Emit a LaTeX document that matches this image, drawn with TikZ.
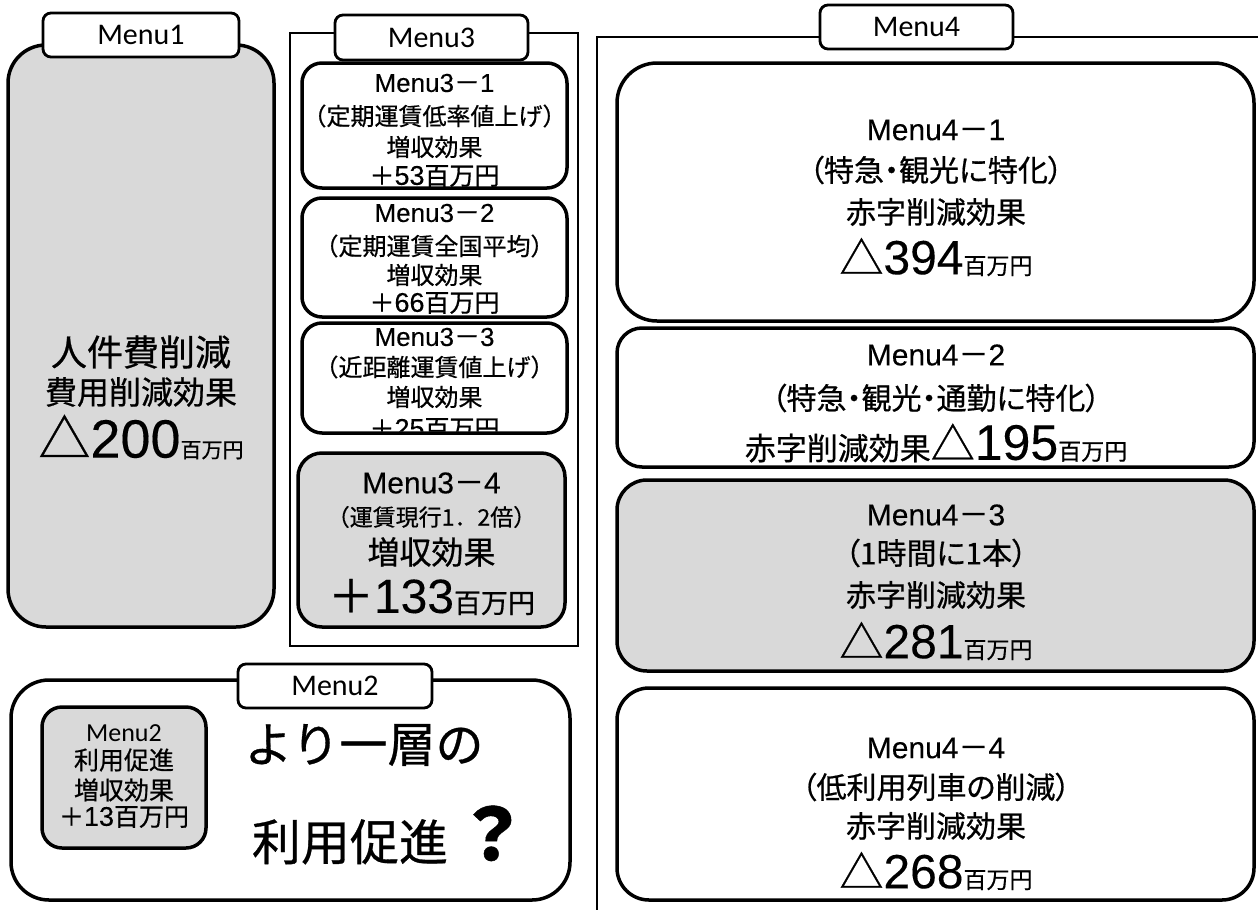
\documentclass[tikz,border=0pt]{standalone}
\usepackage{fontspec}
\usetikzlibrary{fit}
\setmainfont{Noto Sans CJK JP}[FakeBold=0.6]
\newfontfamily\jpp{Noto Sans CJK JP}[RawFeature=+palt, FakeBold=0.6]
\newfontfamily\lat{Liberation Sans}[FakeBold=0.2]
\newfontfamily\carl{Carlito}
\newcommand\fs[1]{\fontsize{#1}{#1}\selectfont}
\newcommand\mymenu[3]{{\lat\fs{#1}Menu#2}{\fs{#1}－}{\lat\fs{#1}#3}}
\newcommand\myamt[5]{{\fs{#3}#1}{\lat\fs{#4}#2}{\fs{#5}百万円}}
\definecolor{scr}{gray}{0.85}
\tikzset{
  box/.style={draw=black, line width=3.5pt, inner sep=0pt, fill=white},
  graybox/.style={box, fill=scr},
  tab/.style={draw=black, line width=2.8pt, fill=white, rounded corners=8pt, inner sep=0pt},
  frame/.style={draw=black, line width=2.5pt},
  txt/.style={inner sep=0pt, align=center}
}
\begin{document}
\begin{tikzpicture}[x=1pt,y=-1pt]
\useasboundingbox[fill=white] (0,0) rectangle (1258,910);

% ---------------- Menu1 ----------------
\node[graybox, rounded corners=38pt, fit={(8,45) (274,627)}] (m1) {};
\node[tab, minimum width=196pt, minimum height=44pt] (tab1) at (141,35) {\carl\fs{30}Menu1};
\node[txt] (t1a) at (141,352) {\fs{36}人件費削減};
\node[txt] (t1b) at (141,392) {\fs{32}費用削減効果};
\node[txt] (t1c) at (141,437) {\myamt{△}{200}{52}{54}{21}};

% ---------------- Menu3 ----------------
\node[frame, fit={(290,33) (578,646)}, inner sep=0pt] (f3) {};
\node[tab, minimum width=193pt, minimum height=45pt] (tab3) at (431.5,37.5) {\carl\fs{30}Menu3};

\node[box, rounded corners=20pt, fit={(302,63) (567,188)}] (m31) {};
\node[txt] (t31a) at (434.5,83) {\mymenu{26}{3}{1}};
\node[txt] (t31b) at (434.5,116) {\fs{24}（定期運賃低率値上げ）};
\node[txt] (t31c) at (434.5,147) {\fs{24}増収効果};
\node[txt] (t31d) at (434.5,176) {\myamt{＋}{53}{25}{27}{25}};

\node[box, rounded corners=20pt, fit={(302,198) (567,317)}] (m32) {};
\node[txt] (t32a) at (434.5,213) {\mymenu{26}{3}{2}};
\node[txt] (t32b) at (434.5,246) {\fs{24}（定期運賃全国平均）};
\node[txt] (t32c) at (434.5,275) {\fs{24}増収効果};
\node[txt] (t32d) at (434.5,303) {\myamt{＋}{66}{25}{27}{25}};

\node[box, rounded corners=20pt, fit={(302,323) (567,433)}] (m33) {};
\begin{scope}
\clip[rounded corners=18pt] (303.5,324.5) rectangle (565.5,431.5);
\node[txt] (t33a) at (434.5,337) {\mymenu{26}{3}{3}};
\node[txt] (t33b) at (434.5,367) {\fs{24}（近距離運賃値上げ）};
\node[txt] (t33c) at (434.5,397) {\fs{24}増収効果};
\node[txt] (t33d) at (434.5,429) {\myamt{＋}{25}{25}{27}{25}};
\end{scope}

\node[graybox, rounded corners=24pt, fit={(298,453) (565,627)}] (m34) {};
\node[txt] (t34a) at (431.5,483) {\mymenu{30}{3}{4}};
\node[txt] (t34b) at (431.5,517) {\fs{23}（運賃現行1．2倍）};
\node[txt] (t34c) at (431.5,552) {\fs{32}増収効果};
\node[txt] (t34d) at (431.5,597) {\myamt{＋}{133}{46}{48}{27}};

% ---------------- Menu2 ----------------
\node[box, rounded corners=38pt, fit={(11,680) (570,900)}] (m2) {};
\node[tab, minimum width=194pt, minimum height=44pt] (tab2) at (335,686) {\carl\fs{30}Menu2};
\node[graybox, rounded corners=20pt, fit={(42,707) (206,848)}] (m2a) {};
\node[txt] (t2a) at (124,733) {\carl\fs{26}Menu2};
\node[txt] (t2b) at (124,760) {\fs{25}利用促進};
\node[txt] (t2c) at (124,790) {\fs{25}増収効果};
\node[txt] (t2d) at (124,817) {\myamt{＋}{13}{25}{27}{25}};
\node[txt] (t2e) at (364,745) {\fs{48}より一層の};
\node[txt] (t2f) at (390,835) {\fs{49}利用促進\hspace{8pt}{\bfseries\fs{72}？}};

% ---------------- Menu4 ----------------
\coordinate (f4b) at (597,910);
\coordinate (f4l) at (597,37);
\coordinate (f4r) at (1258,37);
\draw[frame] (f4b) -- (f4l) -- (f4r);
\node[tab, minimum width=193pt, minimum height=44pt] (tab4) at (916.5,27) {\carl\fs{30}Menu4};

\node[box, rounded corners=40pt, fit={(617,63) (1254,321)}] (m41) {};
\node[txt] (t41a) at (936,130) {\mymenu{30}{4}{1}};
\node[txt] (t41b) at (936,170) {\jpp\fs{30}（特急・観光に特化）};
\node[txt] (t41c) at (936,212) {\fs{30}赤字削減効果};
\node[txt] (t41d) at (936,257) {\myamt{△}{394}{44}{48}{23}};

\node[box, rounded corners=25pt, fit={(617,328) (1254,467)}] (m42) {};
\node[txt] (t42a) at (936,355) {\mymenu{30}{4}{2}};
\node[txt] (t42b) at (936,398) {\jpp\fs{30}（特急・観光・通勤に特化）};
\node[txt] (t42c) at (936,443) {{\fs{31}赤字削減効果}\myamt{△}{195}{44}{50}{23}};

\node[graybox, rounded corners=30pt, fit={(617,480) (1254,671)}] (m43) {};
\node[txt] (t43a) at (936,515) {\mymenu{30}{4}{3}};
\node[txt] (t43b) at (936,553) {\jpp\fs{30}（1時間に1本）};
\node[txt] (t43c) at (936,595) {\fs{30}赤字削減効果};
\node[txt] (t43d) at (936,641) {\myamt{△}{281}{44}{48}{23}};

\node[box, rounded corners=32pt, fit={(617,688) (1254,900)}] (m44) {};
\node[txt] (t44a) at (936,748) {\mymenu{30}{4}{4}};
\node[txt] (t44b) at (936,787) {\jpp\fs{30}（低利用列車の削減）};
\node[txt] (t44c) at (936,826) {\fs{30}赤字削減効果};
\node[txt] (t44d) at (936,871) {\myamt{△}{268}{44}{48}{23}};
\end{tikzpicture}
\end{document}
